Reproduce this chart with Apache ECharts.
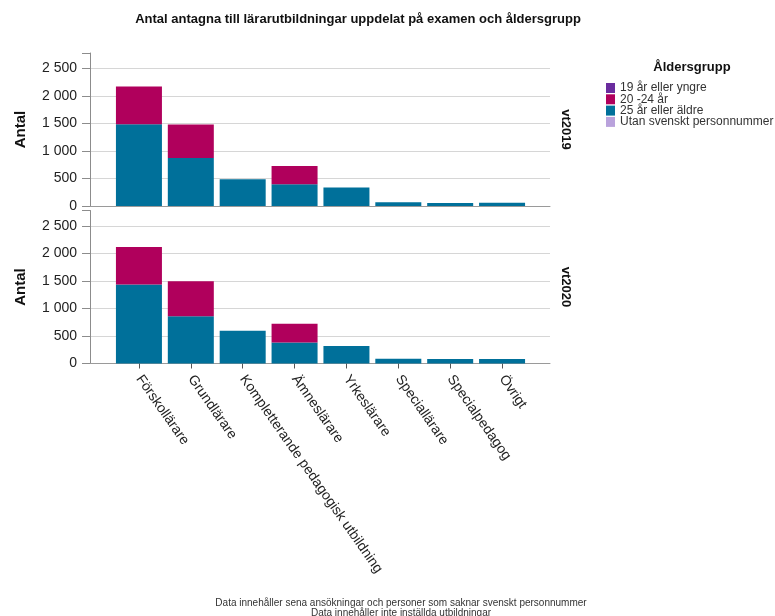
<!DOCTYPE html>
<html><head><meta charset="utf-8">
<script src="https://cdn.jsdelivr.net/npm/echarts@6/dist/echarts.min.js"></script>
<style>html,body{margin:0;padding:0;background:#fff}#c{width:775px;height:616px}</style>
</head><body><div id="c"></div>
<script>
var categories = ['Förskollärare','Grundlärare','Kompletterande pedagogisk utbildning','Ämneslärare','Yrkeslärare','Speciallärare','Specialpedagog','Övrigt'];
var panels = ['vt2019','vt2020'];
var groups = ['19 år eller yngre','20 -24 år','25 år eller äldre','Utan svenskt personnummer'];
var yTicks = [0,500,1000,1500,2000,2500];
// vt2019
var y19_2019 = [0,0,0,0,0,0,0,0];
var a20_24_2019 = [686,607,0,332,0,0,0,0];
var a25_2019 = [1485,873,485,395,335,70,55,60];
var utan_2019 = [0,0,0,0,0,0,0,0];
// vt2020
var y19_2020 = [0,0,0,0,0,0,0,0];
var a20_24_2020 = [679,636,0,338,0,0,0,0];
var a25_2020 = [1436,860,595,382,320,85,82,82];
var utan_2020 = [0,0,0,0,0,0,0,0];

var colors = {'19 år eller yngre':'#6a2c9e','20 -24 år':'#b0005c','25 år eller äldre':'#00709a','Utan svenskt personnummer':'#b9a2dc'};
var FONT = 'Liberation Sans, Arial, sans-serif';
var YMAX = 2780;
function fmt(v){ return String(v).replace(/\B(?=(\d{3})+(?!\d))/g,' '); }

var chart = echarts.init(document.getElementById('c'));
var tops = [53, 210.5];
var grids = [], xAxes = [], yAxes = [], series = [];
var panelData = [
  {y19:y19_2019, a2024:a20_24_2019, a25:a25_2019, utan:utan_2019},
  {y19:y19_2020, a2024:a20_24_2020, a25:a25_2020, utan:utan_2020}
];
panels.forEach(function(p, i){
  var isBottom = i === panels.length - 1;
  grids.push({left:90, top:tops[i], width:460, height:153, containLabel:false});
  grids.push({left:113, top:tops[i], width:415, height:153, containLabel:false});
  var ga = 2*i, gb = 2*i+1;
  xAxes.push({gridIndex:ga, type:'value', min:0, max:1, axisLine:{show:true, onZero:false, lineStyle:{color:'#9a9a9a', width:1}},
    axisTick:{show:false}, axisLabel:{show:false}, splitLine:{show:false}});
  xAxes.push({gridIndex:gb, type:'category', data:categories, axisLine:{show:false},
    axisTick:{show:isBottom, alignWithLabel:true, length:5, lineStyle:{color:'#555'}},
    axisLabel:{show:isBottom, rotate:-55, margin:13, fontSize:14, color:'#222', fontFamily:FONT, interval:0}});
  yAxes.push({gridIndex:ga, type:'value', min:0, max:YMAX, interval:500,
    name:'Antal', nameLocation:'middle', nameRotate:90, nameGap:62,
    nameTextStyle:{fontSize:15, fontWeight:'bold', color:'#111', fontFamily:FONT},
    axisLine:{show:true, lineStyle:{color:'#8c8c8c'}},
    axisTick:{show:true, length:8, lineStyle:{color:'#8c8c8c'}},
    axisLabel:{fontSize:14, color:'#222', fontFamily:FONT, margin:13, formatter:fmt, customValues:yTicks},
    splitLine:{show:true, showMaxLine:false, lineStyle:{color:'#d6d6d6'}}});
  yAxes.push({gridIndex:gb, type:'value', min:0, max:YMAX, position:'right',
    name:p, nameLocation:'middle', nameRotate:-90, nameGap:31,
    nameTextStyle:{fontSize:13, fontWeight:'bold', color:'#111', fontFamily:FONT},
    axisLine:{show:false}, axisTick:{show:false}, axisLabel:{show:false}, splitLine:{show:false}});
  var d = panelData[i];
  var order = [['25 år eller äldre', d.a25], ['20 -24 år', d.a2024], ['19 år eller yngre', d.y19], ['Utan svenskt personnummer', d.utan]];
  order.forEach(function(o){
    series.push({name:o[0], type:'bar', xAxisIndex:gb, yAxisIndex:(2*i+1), stack:'s'+i, barWidth:46,
      data:o[1], itemStyle:{color:colors[o[0]]}, emphasis:{disabled:true}, animation:false});
  });
});

chart.setOption({
  animation:false,
  textStyle:{fontFamily:FONT},
  title:[
    {text:'Antal antagna till lärarutbildningar uppdelat på examen och åldersgrupp', left:353, textAlign:'center', top:8,
     textStyle:{fontSize:13, fontWeight:'bold', color:'#111', fontFamily:FONT}},
    {text:'Åldersgrupp', left:687, textAlign:'center', top:56, textStyle:{fontSize:13, fontWeight:'bold', color:'#111', fontFamily:FONT}},
    {text:'Data innehåller sena ansökningar och personer som saknar svenskt personnummer\nData innehåller inte inställda utbildningar',
     left:396, textAlign:'center', top:593, textStyle:{fontSize:10, fontWeight:'normal', color:'#333', lineHeight:10, fontFamily:FONT}}
  ],
  legend:{orient:'vertical', left:606, top:82, padding:0, data:groups, icon:'rect', itemWidth:9, itemHeight:10, itemGap:-0.7,
    textStyle:{fontSize:12, color:'#333', fontFamily:FONT}, selectedMode:false},
  grid:grids, xAxis:xAxes, yAxis:yAxes, series:series
});
</script></body></html>
